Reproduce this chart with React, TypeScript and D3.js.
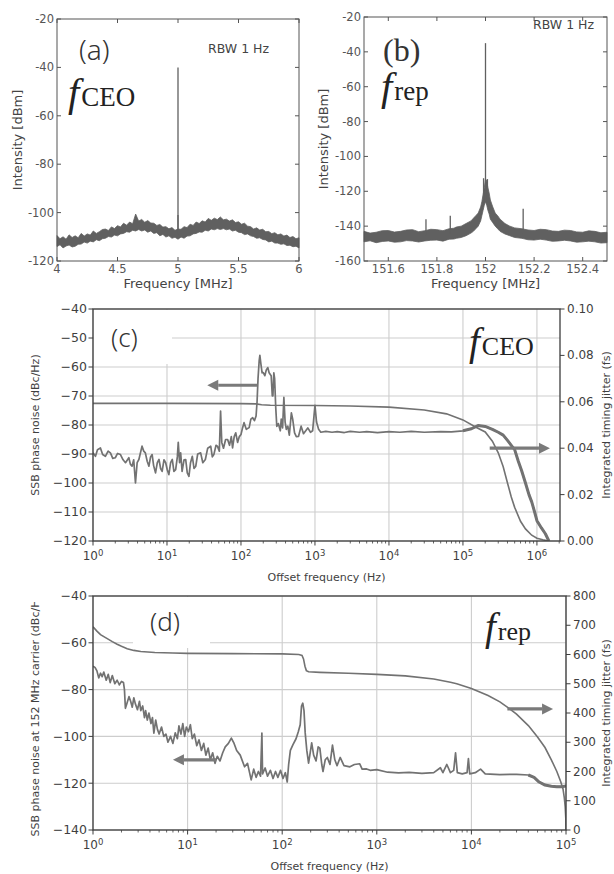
import React from 'react';
import * as d3 from 'd3';

// ---------- (a) f_CEO beat note, RBW 1 Hz ----------
const aBandFreq = [4.0, 4.025, 4.05, 4.075, 4.1, 4.125, 4.15, 4.175, 4.2, 4.225, 4.25, 4.275, 4.3, 4.325, 4.35, 4.375, 4.4, 4.425, 4.45, 4.475,
  4.5, 4.525, 4.55, 4.575, 4.6, 4.625, 4.65, 4.675, 4.7, 4.725, 4.75, 4.775, 4.8, 4.825, 4.85, 4.875, 4.9, 4.925, 4.95, 4.975,
  5.0, 5.025, 5.05, 5.075, 5.1, 5.125, 5.15, 5.175, 5.2, 5.225, 5.25, 5.275, 5.3, 5.325, 5.35, 5.375, 5.4, 5.425, 5.45, 5.475,
  5.5, 5.525, 5.55, 5.575, 5.6, 5.625, 5.65, 5.675, 5.7, 5.725, 5.75, 5.775, 5.8, 5.825, 5.85, 5.875, 5.9, 5.925, 5.95, 5.975, 6.0];
const aBandUpper = [-109.5, -110.8, -110.0, -111.0, -109.2, -110.3, -109.6, -110.4, -108.6, -109.7, -108.8, -109.3, -107.6, -108.6, -107.9, -107.0, -106.8, -107.4, -105.9, -106.6,
  -105.4, -105.9, -104.4, -105.2, -103.9, -104.6, -100.6, -103.5, -102.8, -104.0, -103.3, -104.3, -104.4, -105.3, -104.9, -106.0, -105.8, -106.7, -106.2, -107.3,
  -106.8, -106.9, -105.8, -106.2, -104.8, -105.3, -103.9, -104.5, -103.4, -103.9, -102.4, -103.2, -102.3, -102.9, -101.8, -103.0, -102.7, -103.5, -103.0, -104.1,
  -103.8, -104.8, -104.4, -105.6, -105.8, -106.8, -106.3, -107.2, -106.9, -107.9, -107.8, -108.7, -108.3, -109.2, -108.8, -109.7, -109.3, -110.3, -109.9, -110.8, -110.4];
const aBandLower = [-114.0, -113.3, -114.6, -113.8, -113.4, -114.2, -113.9, -113.1, -113.0, -112.2, -112.6, -111.8, -112.1, -111.2, -111.6, -110.8, -110.6, -109.9, -110.1, -109.3,
  -109.6, -108.8, -108.6, -107.9, -108.1, -107.3, -107.6, -107.0, -107.6, -107.2, -108.1, -107.6, -108.6, -108.3, -109.6, -109.0, -110.1, -109.6, -110.6, -110.2,
  -111.0, -110.1, -110.6, -109.7, -109.6, -108.8, -108.6, -108.0, -108.1, -107.3, -107.6, -106.8, -107.1, -106.6, -107.0, -106.6, -107.1, -106.8, -107.6, -107.3,
  -108.1, -108.3, -109.1, -108.8, -109.6, -109.9, -110.6, -110.4, -111.1, -111.3, -112.1, -111.8, -112.6, -112.6, -113.1, -112.9, -113.6, -113.5, -114.1, -113.9, -114.6];
const aSpikeFreq = [5, 5];
const aSpikeLevel = [-40, -101];
const aXTicks = [4, 4.5, 5, 5.5, 6];
const aYTicks = [-120, -100, -80, -60, -40, -20];

// ---------- (b) f_rep, RBW 1 Hz ----------
const bBandFreq = [151.5, 151.525, 151.55, 151.575, 151.6, 151.625, 151.65, 151.675, 151.7, 151.725, 151.75, 151.775, 151.8, 151.825, 151.85, 151.87, 151.88, 151.9, 151.92, 151.94,
  151.95, 151.96, 151.97, 151.98, 151.985, 151.99, 151.995, 152.0, 152.005, 152.01, 152.015, 152.02, 152.03, 152.04, 152.05, 152.06, 152.08, 152.1, 152.12, 152.15,
  152.175, 152.2, 152.225, 152.25, 152.275, 152.3, 152.325, 152.35, 152.375, 152.4, 152.425, 152.45, 152.475, 152.5];
const bBandUpper = [-143, -144, -143.5, -142.6, -142.5, -143.4, -143, -142.2, -142, -143.2, -142.6, -141.8, -142, -142.6, -141.5, -141.2, -140.5, -140, -138.5, -137,
  -135.5, -134, -132.5, -129, -126, -122, -118, -113, -114, -118, -121, -125, -129, -132.5, -134, -136, -138.5, -140, -141, -141.5,
  -142.2, -142.5, -141.8, -142, -142.8, -143, -142.3, -142.5, -143.3, -143.5, -142.7, -143, -143.8, -143.5];
const bBandLower = [-149, -148.4, -149.5, -148.8, -148.5, -149.2, -149, -148.3, -148.5, -149.1, -148.5, -148.1, -148, -148.6, -147.5, -147.4, -147, -146.5, -145.5, -144,
  -143, -141.5, -140, -137, -134, -131, -128, -126, -128, -131, -133, -136, -138, -140, -141.5, -143, -144.5, -145.5, -146.5, -147,
  -147.8, -148, -147.5, -148, -148.7, -148.5, -148.1, -148.5, -149.2, -149, -148.6, -149, -149.7, -149.5];
const bSpikeFreq = [151.755, 151.855, 151.992, 152.008, 152.155, 152.0];
const bSpikeLevel = [-136, -134, -112.5, -113, -130, -35];
const bXTicks = [151.6, 151.8, 152, 152.2, 152.4];
const bYTicks = [-160, -140, -120, -100, -80, -60, -40, -20];

// ---------- (c) f_CEO phase noise + integrated jitter ----------
const cNoiseFreq = [1, 1.08, 1.15, 1.26, 1.35, 1.47, 1.6, 1.72, 1.85, 2.0, 2.15, 2.35, 2.55, 2.75, 3.05, 3.2, 3.37, 3.55, 3.75, 3.95,
  4.17, 4.6, 4.85, 5.1, 5.4, 5.7, 6.0, 6.3, 6.6, 7.0, 7.4, 7.8, 8.2, 8.6, 9.1, 9.6, 10.1, 10.6, 11.2, 11.8,
  12.4, 13.1, 13.8, 14.2, 14.8, 15.3, 16, 17, 17.9, 18.8, 19.8, 20.8, 22, 23.2, 24.5, 26, 28.5, 30.5, 33, 35.5,
  39, 41, 43, 46, 48, 51, 53, 55, 58, 62, 66, 70, 74, 77, 81, 85, 90, 95, 100, 105,
  110, 118, 129, 136, 144, 152, 160, 165, 170, 176, 180, 186, 193, 200, 210, 220, 230, 240, 256, 265,
  270, 278, 285, 295, 305, 320, 340, 350, 365, 380, 395, 410, 430, 450, 480, 500, 530, 560, 600, 650,
  700, 750, 800, 870, 930, 1000, 1050, 1120, 1200, 1400, 1700, 2000, 2500, 3000, 4000, 5000, 7000, 10000, 14000, 20000,
  30000, 50000, 70000, 100000, 130000, 160000, 200000, 250000, 300000, 350000, 400000, 450000, 500000, 560000, 620000, 700000, 780000, 850000, 930000, 1000000,
  1150000, 1300000, 1450000];
const cNoiseLevel = [-89.6, -90.8, -88.5, -87.9, -90.2, -90.8, -89, -89.6, -91.5, -91.3, -89.8, -90.2, -92, -93, -91.3, -93.5, -94.2, -92, -100, -93,
  -91.9, -87.3, -89, -89.6, -92.5, -94.2, -91, -90.2, -94, -96.5, -93, -91.9, -95, -96, -92, -93, -95.5, -97.1, -93, -91.9,
  -96, -95.4, -91, -86, -93, -89.6, -96, -92, -91.9, -96.5, -97.7, -93, -90.8, -95, -94.2, -90, -89.6, -93, -91.9, -88,
  -87.3, -91, -90.2, -87, -87.3, -89, -75.2, -86, -88, -85, -85, -87, -84, -87.9, -84, -82.7, -86, -84, -83.3, -81,
  -79.2, -81.5, -80.9, -78, -77.5, -78.5, -76.9, -72, -64, -58, -56, -59, -62, -61.9, -63, -61, -60.2, -62, -63, -70,
  -70, -62, -64, -74, -80.5, -79.5, -82, -78, -81, -70.5, -79, -81.5, -80.4, -83.5, -75.8, -78, -82.7, -84, -83.9, -80.4,
  -83, -82, -81, -82.5, -82, -73.2, -79, -81.5, -82.5, -82.2, -82.5, -82.3, -82.6, -82.2, -82.5, -82.3, -82.6, -82.3, -82.5, -82.2,
  -82.5, -82.3, -82.4, -82.0, -81.3, -80.2, -80.5, -81.5, -82.5, -83.5, -85.3, -87, -88.5, -92.5, -95.7, -100, -104, -106.5, -110, -113,
  -115.5, -117.5, -120];
const cJitterFreq = [1, 10, 100, 160, 190, 250, 1000, 3000, 10000, 30000, 60000, 100000, 150000, 200000, 250000, 300000, 350000, 400000, 450000, 500000,
  600000, 700000, 850000, 1000000, 1200000, 1450000];
const cJitterFs = [0.0593, 0.0593, 0.0592, 0.0591, 0.0587, 0.0585, 0.0584, 0.0582, 0.0577, 0.0565, 0.0548, 0.0522, 0.049, 0.047, 0.043, 0.038, 0.032, 0.025, 0.019, 0.0145,
  0.0085, 0.0052, 0.0025, 0.0012, 0.0005, 0];
const cLeftTicks = [-120, -110, -100, -90, -80, -70, -60, -50, -40];
const cRightTicks = [0, 0.02, 0.04, 0.06, 0.08, 0.1];

// ---------- (d) f_rep phase noise + integrated jitter ----------
const dNoiseFreq = [1, 1.05, 1.1, 1.15, 1.2, 1.25, 1.3, 1.38, 1.45, 1.52, 1.6, 1.7, 1.8, 1.9, 2.0, 2.1, 2.15, 2.2, 2.3, 2.4,
  2.5, 2.6, 2.7, 2.8, 2.95, 3.1, 3.2, 3.35, 3.5, 3.6, 3.75, 3.9, 4.1, 4.25, 4.4, 4.6, 4.8, 5.0, 5.3, 5.6,
  5.9, 6.2, 6.6, 7.0, 7.4, 7.8, 8.1, 8.5, 8.9, 9.3, 9.7, 10.2, 10.7, 11.2, 11.8, 12.5, 13.2, 14, 14.8, 15.6,
  16.5, 17.4, 18.4, 19.5, 20.6, 22, 23.5, 25, 27, 29, 31, 33, 36, 40, 43, 47, 50, 53, 56, 59,
  61, 62, 66, 70, 75, 80, 85, 90, 96, 102, 108, 113, 117, 122, 130, 140, 148, 155, 160, 165,
  170, 175, 182, 190, 196, 205, 215, 228, 240, 250, 262, 270, 285, 300, 320, 340, 360, 380, 410, 450,
  520, 580, 660, 700, 780, 850, 1000, 1300, 1700, 2200, 3000, 4000, 4700, 5000, 5500, 6000, 6500, 6800, 7100, 8000,
  9000, 9300, 9600, 11000, 12500, 14000, 20000, 30000, 40000, 46000, 52000, 60000, 70000, 80000, 90000, 100000];
const dNoiseLevel = [-70, -70.5, -72, -75, -73, -74.5, -72.5, -76, -73.5, -77, -74, -77.5, -76, -78, -76.5, -77, -80, -88, -85.5, -83,
  -85, -87.5, -83.5, -86, -88.6, -85, -89, -87, -92, -89, -93, -90, -94.5, -92, -98.6, -93, -97, -99, -96, -100,
  -99, -102.5, -100, -103, -98.5, -101, -95.5, -99, -94.5, -100, -96, -98, -95, -101, -99, -104, -101.5, -106, -103, -108,
  -105, -110, -107, -111.5, -108.5, -110.5, -107, -104.5, -103, -100.7, -103, -106, -108, -113, -111.5, -118.6, -114, -117.5, -115, -117,
  -98.6, -116, -113.5, -117, -114.5, -118, -115, -117.5, -114.5, -118, -115.5, -119.5, -112, -106, -103.5, -101, -98, -95, -87, -85.8,
  -89, -98.5, -106, -111.4, -108, -102.8, -108, -110.5, -104.5, -105, -112, -115, -110, -109, -112, -103.7, -110, -112.5, -109, -112.5,
  -113, -112, -111.7, -114, -113.9, -114.5, -114.2, -115.3, -115.6, -115.4, -115.8, -115.5, -113.4, -115.5, -112, -115.5, -114.5, -107, -115.5, -116,
  -115.5, -109.5, -116, -115.5, -114, -116, -116.3, -116.2, -116.5, -117.5, -119.5, -120.8, -121.3, -121.5, -121.5, -121.2];
const dJitterFreq = [1, 1.1, 1.2, 1.4, 1.6, 1.8, 2.0, 2.3, 2.7, 3.2, 4.5, 7, 10, 30, 100, 150, 162, 168, 174, 180,
  190, 250, 500, 1000, 2000, 4000, 6000, 7000, 10000, 15000, 20000, 25000, 30000, 40000, 50000, 60000, 70000, 80000, 88000, 93000,
  96000, 98000, 99500, 100000];
const dJitterFs = [695, 680, 668, 655, 644, 635, 628, 620, 614, 610, 607, 605, 604, 603, 602, 600, 597, 585, 560, 545,
  541, 539, 536, 532, 527, 516, 505, 500, 484, 460, 438, 416, 396, 357, 318, 282, 240, 200, 165, 140,
  110, 80, 40, 0];
const dLeftTicks = [-140, -120, -100, -80, -60, -40];
const dRightTicks = [0, 100, 200, 300, 400, 500, 600, 700, 800];

const LINE = '#727272';
const BAND = '#606060';
const FRAME = '#3d3d3d';
const TXT = '#3f3f3f';
const GRID = '#cdcdcd';
const SANS = 'DejaVu Sans, sans-serif';
const SERIF = "'Liberation Serif', 'DejaVu Serif', serif";
const LIGHT = "'Noto Sans', sans-serif";

type SpecProps = {
  left: number; right: number; top: number; bottom: number;
  xDomain: [number, number]; yDomain: [number, number];
  xTicks: number[]; yTicks: number[];
  freq: number[]; upper: number[]; lower: number[];
  spikeFreq: number[]; spikeLevel: number[];
  ylabelX: number;
};

function SpecPanel(p: SpecProps) {
  const x = d3.scaleLinear().domain(p.xDomain).range([p.left, p.right]);
  const y = d3.scaleLinear().domain(p.yDomain).range([p.bottom, p.top]);
  const idx = p.freq.map((_, i) => i);
  const band = d3.area<number>()
    .x(i => x(p.freq[i]))
    .y0(i => y(p.lower[i]))
    .y1(i => y(p.upper[i]));
  const tl = 4;
  return (
    <g>
      <path d={band(idx) || ''} fill={BAND} stroke={BAND} strokeWidth={0.8} />
      {p.spikeFreq.map((f, k) => {
        const j = d3.bisectCenter(p.freq, f);
        const base = (p.upper[j] + p.lower[j]) / 2;
        return <line key={k} x1={x(f)} x2={x(f)} y1={y(base)} y2={y(p.spikeLevel[k])} stroke={BAND} strokeWidth={1.3} />;
      })}
      <rect x={p.left} y={p.top} width={p.right - p.left} height={p.bottom - p.top} fill="none" stroke="#555" strokeWidth={1} />
      {p.xTicks.map(t => (
        <g key={t}>
          <line x1={x(t)} x2={x(t)} y1={p.bottom} y2={p.bottom - tl} stroke="#555" />
          <line x1={x(t)} x2={x(t)} y1={p.top} y2={p.top + tl} stroke="#555" />
          <text x={x(t)} y={p.bottom + 12} textAnchor="middle" fontSize={11.5} fill="#555" fontFamily={SANS}>{`${+t.toFixed(1)}`}</text>
        </g>
      ))}
      {p.yTicks.map(t => (
        <g key={t}>
          <line x1={p.left} x2={p.left + tl} y1={y(t)} y2={y(t)} stroke="#555" />
          <line x1={p.right} x2={p.right - tl} y1={y(t)} y2={y(t)} stroke="#555" />
          <text x={p.left - 3} y={y(t) + 4} textAnchor="end" fontSize={11.5} fill="#555" fontFamily={SANS}>{`${t}`}</text>
        </g>
      ))}
      <text x={(p.left + p.right) / 2} y={p.bottom + 27} textAnchor="middle" fontSize={13} fill="#444" fontFamily={SANS}>Frequency [MHz]</text>
      <text transform={`translate(${p.ylabelX},${(p.top + p.bottom) / 2}) rotate(-90)`} textAnchor="middle" fontSize={13} fill="#444" fontFamily={SANS}>Intensity [dBm]</text>
    </g>
  );
}

type Arrow = { f0: number; f1: number; v: number; axis: 'left' | 'right' };

type LogProps = {
  id: string;
  left: number; right: number; top: number; bottom: number;
  xDomain: [number, number];
  leftDomain: [number, number]; rightDomain: [number, number];
  leftTicks: number[]; rightTicks: number[]; rightFmt: (v: number) => string;
  noiseFreq: number[]; noiseLevel: number[]; thickFrom: number;
  jitFreq: number[]; jitVal: number[];
  rightLabel: string;
  arrows: Arrow[];
  box: [number, number, number, number];
};

function LogPanel(p: LogProps) {
  const x = d3.scaleLog().domain(p.xDomain).range([p.left, p.right]);
  const yl = d3.scaleLinear().domain(p.leftDomain).range([p.bottom, p.top]);
  const yr = d3.scaleLinear().domain(p.rightDomain).range([p.bottom, p.top]);
  const e0 = Math.ceil(Math.log10(p.xDomain[0]) - 1e-9);
  const e1 = Math.floor(Math.log10(p.xDomain[1]) + 1e-9);
  const majors = d3.range(e0, e1 + 1);
  const minors: number[] = [];
  for (let e = e0 - 1; e <= e1; e++) {
    for (let k = 2; k <= 9; k++) {
      const v = k * Math.pow(10, e);
      if (v > p.xDomain[0] && v < p.xDomain[1]) minors.push(v);
    }
  }
  const noiseLine = d3.line<number>().x(i => x(p.noiseFreq[i])).y(i => yl(p.noiseLevel[i]));
  const allIdx = p.noiseFreq.map((_, i) => i);
  const thickIdx = allIdx.filter(i => p.noiseFreq[i] >= p.thickFrom);
  const jitLine = d3.line<number>().x(i => x(p.jitFreq[i])).y(i => yr(p.jitVal[i]));
  const jitIdx = p.jitFreq.map((_, i) => i);
  const clip = `clip-${p.id}`;
  return (
    <g>
      <defs>
        <clipPath id={clip}>
          <rect x={p.left} y={p.top} width={p.right - p.left} height={p.bottom - p.top} />
        </clipPath>
      </defs>
      {majors.map(e => (
        <line key={`gx${e}`} x1={x(Math.pow(10, e))} x2={x(Math.pow(10, e))} y1={p.top} y2={p.bottom} stroke={GRID} strokeWidth={1.1} />
      ))}
      {p.leftTicks.map(t => (
        <line key={`gy${t}`} x1={p.left} x2={p.right} y1={yl(t)} y2={yl(t)} stroke={GRID} strokeWidth={1.1} />
      ))}
      <rect x={p.box[0]} y={p.box[1]} width={p.box[2] - p.box[0]} height={p.box[3] - p.box[1]} fill="#fff" />
      <g clipPath={`url(#${clip})`}>
        <path d={jitLine(jitIdx) || ''} fill="none" stroke={LINE} strokeWidth={1.6} />
        <path d={noiseLine(allIdx) || ''} fill="none" stroke={LINE} strokeWidth={1.7} strokeLinejoin="round" />
        <path d={noiseLine(thickIdx) || ''} fill="none" stroke={LINE} strokeWidth={3} strokeLinejoin="round" />
      </g>
      {p.arrows.map((a, k) => {
        const ys = a.axis === 'left' ? yl(a.v) : yr(a.v);
        const xs = x(a.f0);
        const xe = x(a.f1);
        const dir = xe > xs ? 1 : -1;
        const hl = 11;
        return (
          <g key={k}>
            <line x1={xs} x2={xe - dir * hl} y1={ys} y2={ys} stroke="#7a7a7a" strokeWidth={3.2} />
            <polygon points={`${xe},${ys} ${xe - dir * hl},${ys - 5.5} ${xe - dir * hl},${ys + 5.5}`} fill="#7a7a7a" />
          </g>
        );
      })}
      <rect x={p.left} y={p.top} width={p.right - p.left} height={p.bottom - p.top} fill="none" stroke={FRAME} strokeWidth={1.3} />
      {minors.map(v => (
        <line key={`mn${v}`} x1={x(v)} x2={x(v)} y1={p.bottom} y2={p.bottom + 2.5} stroke={FRAME} strokeWidth={0.8} />
      ))}
      {majors.map(e => (
        <g key={`mx${e}`}>
          <line x1={x(Math.pow(10, e))} x2={x(Math.pow(10, e))} y1={p.bottom} y2={p.bottom + 4.5} stroke={FRAME} strokeWidth={1} />
          <text x={x(Math.pow(10, e))} y={p.bottom + 19} textAnchor="middle" fontSize={12} fill={TXT} fontFamily={SANS}>
            10<tspan dy={-4.5} fontSize={8.5}>{e}</tspan>
          </text>
        </g>
      ))}
      {p.leftTicks.map(t => (
        <g key={`lt${t}`}>
          <line x1={p.left - 4.5} x2={p.left} y1={yl(t)} y2={yl(t)} stroke={FRAME} strokeWidth={1} />
          <text x={p.left - 6} y={yl(t) + 4.3} textAnchor="end" fontSize={12.5} fill={TXT} fontFamily={SANS}>{`\u2212${Math.abs(t)}`}</text>
        </g>
      ))}
      {p.rightTicks.map(t => (
        <g key={`rt${t}`}>
          <line x1={p.right} x2={p.right + 4.5} y1={yr(t)} y2={yr(t)} stroke={FRAME} strokeWidth={1} />
          <text x={p.right + 7} y={yr(t) + 4} textAnchor="start" fontSize={12} fill={TXT} fontFamily={SANS}>{p.rightFmt(t)}</text>
        </g>
      ))}
      <text x={(p.left + p.right) / 2} y={p.bottom + 40} textAnchor="middle" fontSize={11} fill={TXT} fontFamily={SANS}>Offset frequency (Hz)</text>
      <text transform={`translate(610,${(p.top + p.bottom) / 2}) rotate(-90)`} textAnchor="middle" fontSize={11} fill={TXT} fontFamily={SANS}>{p.rightLabel}</text>
    </g>
  );
}

function FLabel({ x, y, sub, size }: { x: number; y: number; sub: string; size: number }) {
  return (
    <text x={x} y={y} fill="#222">
      <tspan fontFamily={SERIF} fontStyle="italic" fontSize={size * 1.5}>f</tspan>
      <tspan fontFamily={SERIF} fontStyle="normal" fontSize={size} dx={2}>{sub}</tspan>
    </text>
  );
}

export default function App() {
  return (
    <svg width={614} height={874} viewBox="0 0 614 874" style={{ position: 'absolute', left: 0, top: 0, background: '#fff' }}>
      <defs>
        <clipPath id="dlabel-clip">
          <rect x={0} y={602} width={80} height={272} />
        </clipPath>
      </defs>

      <SpecPanel left={57} right={299} top={19} bottom={261} xDomain={[4, 6]} yDomain={[-120, -20]}
        xTicks={aXTicks} yTicks={aYTicks} freq={aBandFreq} upper={aBandUpper} lower={aBandLower}
        spikeFreq={aSpikeFreq} spikeLevel={aSpikeLevel} ylabelX={22} />
      <text x={79} y={60} fontSize={28} fontWeight={300} fontFamily={LIGHT} fill="#333">(a)</text>
      <text x={208} y={53} fontSize={12.5} fontFamily={SANS} fill="#444">RBW 1 Hz</text>
      <FLabel x={68} y={106} sub="CEO" size={27} />

      <SpecPanel left={364} right={607} top={17} bottom={261} xDomain={[151.5, 152.5]} yDomain={[-160, -20]}
        xTicks={bXTicks} yTicks={bYTicks} freq={bBandFreq} upper={bBandUpper} lower={bBandLower}
        spikeFreq={bSpikeFreq} spikeLevel={bSpikeLevel} ylabelX={328} />
      <text x={383} y={61} fontSize={32} fontFamily={SERIF} fill="#333">(b)</text>
      <text x={533} y={29} fontSize={12.5} fontFamily={SANS} fill="#444">RBW 1 Hz</text>
      <FLabel x={381} y={100} sub="rep" size={27} />

      <LogPanel id="c" left={93} right={560} top={309} bottom={541} xDomain={[1, 2.05e6]}
        leftDomain={[-120, -40]} rightDomain={[0, 0.1]} leftTicks={cLeftTicks} rightTicks={cRightTicks}
        rightFmt={v => v.toFixed(2)} noiseFreq={cNoiseFreq} noiseLevel={cNoiseLevel} thickFrom={100000}
        jitFreq={cJitterFreq} jitVal={cJitterFs} rightLabel="Integrated timing jitter (fs)"
        arrows={[{ f0: 167, f1: 35, v: -66.3, axis: 'left' }, { f0: 2.3e5, f1: 1.5e6, v: 0.04, axis: 'right' }]}
        box={[94, 310, 172, 364]} />
      <text transform="translate(39,425) rotate(-90)" textAnchor="middle" fontSize={11} fill={TXT} fontFamily={SANS}>SSB phase noise (dBc/Hz)</text>
      <text x={111} y={347} fontSize={26} fontWeight={300} fontFamily={LIGHT} fill="#333">(c)</text>
      <FLabel x={469} y={355} sub="CEO" size={26} />

      <LogPanel id="d" left={93} right={566} top={596} bottom={830} xDomain={[1, 1e5]}
        leftDomain={[-140, -40]} rightDomain={[0, 800]} leftTicks={dLeftTicks} rightTicks={dRightTicks}
        rightFmt={v => `${v}`} noiseFreq={dNoiseFreq} noiseLevel={dNoiseLevel} thickFrom={40000}
        jitFreq={dJitterFreq} jitVal={dJitterFs} rightLabel="Integrated timing jitter (fs)"
        arrows={[{ f0: 20, f1: 7, v: -110, axis: 'left' }, { f0: 2.4e4, f1: 7.3e4, v: 414, axis: 'right' }]}
        box={[133, 597, 210, 648]} />
      <g clipPath="url(#dlabel-clip)">
        <text transform="translate(39,713) rotate(-90)" textAnchor="middle" fontSize={11} fill={TXT} fontFamily={SANS}>SSB phase noise at 152 MHz carrier (dBc/Hz)</text>
      </g>
      <text x={150} y={631} fontSize={26} fontWeight={300} fontFamily={LIGHT} fill="#333">(d)</text>
      <FLabel x={485} y={640} sub="rep" size={26} />
    </svg>
  );
}
